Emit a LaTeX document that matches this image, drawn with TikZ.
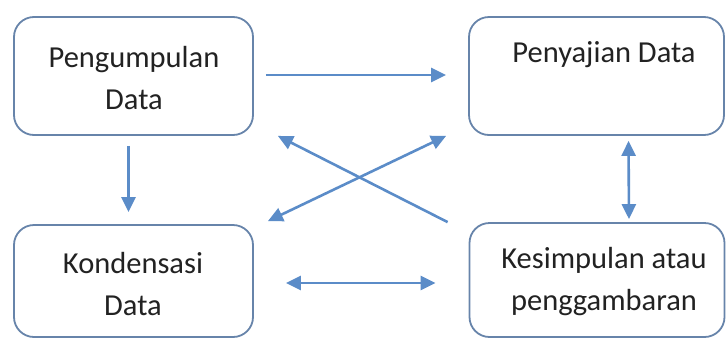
\documentclass[tikz,border=0pt]{standalone}
\usepackage{fontspec}
\setmainfont{Carlito}
\usetikzlibrary{arrows.meta}
\definecolor{arrowblue}{HTML}{5B8CC8}
\definecolor{boxedge}{HTML}{6784AA}
\definecolor{txt}{HTML}{222222}
\tikzset{
  box/.style={draw=boxedge, line width=1.8pt, rounded corners=20pt, fill=white,
    minimum width=#1, inner sep=0pt},
  lbl/.style={text=txt, font=\fontsize{30.5}{42}\selectfont, align=center, inner sep=0pt},
  conn/.style={draw=arrowblue, line width=2.6pt, -{Triangle[length=15pt,width=14pt]}},
  conn2/.style={draw=arrowblue, line width=2.6pt, {Triangle[length=15pt,width=14pt]}-{Triangle[length=15pt,width=14pt]}}
}
\begin{document}
\begin{tikzpicture}[x=1pt,y=-1pt]
\useasboundingbox (0,0) rectangle (728,338);
\node[box=239pt, minimum height=118pt] (b1) at (133.5,76) {};
\node[box=255pt, minimum height=118pt] (b2) at (596.5,76) {};
\node[box=239pt, minimum height=112pt] (b3) at (133.5,281) {};
\node[box=255pt, minimum height=114pt] (b4) at (597,280) {};
\node[lbl] (t1) at (134,78) {Pengumpulan\\Data};
\node[lbl] (t2) at (604,55) {Penyajian Data};
\node[lbl] (t3) at (133,284) {Kondensasi\\Data};
\node[lbl] (t4) at (604,282) {Kesimpulan atau\\penggambaran};
% arrows
\draw[conn, shorten <=12pt, shorten >=22pt] ([yshift=1pt]b1.east) -- ([yshift=1pt]b2.west);
\draw[conn, shorten <=10pt, shorten >=12pt] ([xshift=-5pt]b1.south) -- ([xshift=-5pt]b3.north);
\draw[conn] ([xshift=-21pt]b4.north west) -- ([xshift=24pt]b1.south east);
\draw[conn2] ([xshift=14pt,yshift=3pt]b3.north east) -- ([xshift=-22pt]b2.south west);
\draw[conn2, shorten <=32pt, shorten >=33pt] ([yshift=-2pt]b3.east) -- ([yshift=-3pt]b4.west);
\draw[conn2, shorten <=5pt, shorten >=3pt] ([xshift=32pt]b2.south) -- ([xshift=32pt]b4.north);
\end{tikzpicture}
\end{document}
